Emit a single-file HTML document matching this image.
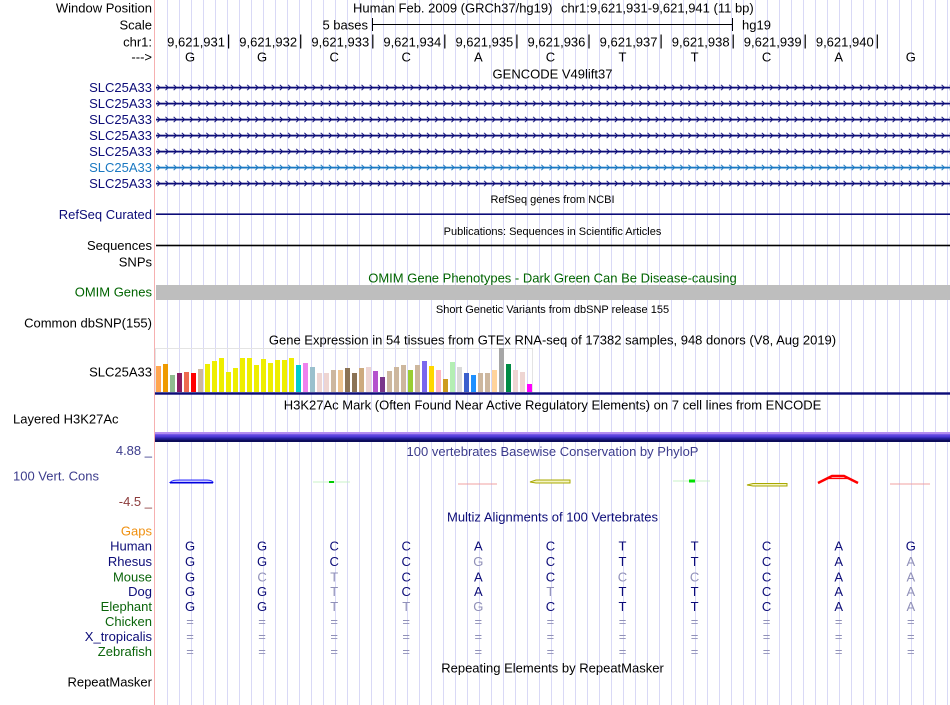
<!DOCTYPE html>
<html><head><meta charset="utf-8">
<style>
html,body{margin:0;padding:0;background:#fff;}
body{width:950px;height:705px;position:relative;overflow:hidden;}
svg{position:absolute;left:0;top:0;}
svg text{font-family:"Liberation Sans",Arial,sans-serif;font-size:13px;fill:#000;}
.r{text-anchor:end;}
.mid{text-anchor:middle;}
.s{font-size:11px;}
.n{fill:#0c0c78;}
.g{fill:#0a640a;}
.m{fill:#9090b8;}
.lb{fill:#1a78c2;}
.cv{fill:#3c3c8c;}
.cr{fill:#8c3c3c;}
.or{fill:#f09010;}
.om{fill:#006400;}
</style></head><body>
<svg width="950" height="705" viewBox="0 0 950 705">
<defs>
<pattern id="grid" x="167" y="0" width="12" height="705" patternUnits="userSpaceOnUse"><rect x="0" y="0" width="1" height="705" fill="#d9d9f6"/></pattern>
<pattern id="chevN" x="156.5" y="79.5" width="8.17" height="16" patternUnits="userSpaceOnUse"><path d="M0.8,5.3 L3.6,8 L0.8,10.7" fill="none" stroke="#0c0c78" stroke-width="1"/></pattern>
<pattern id="chevB" x="156.5" y="79.5" width="8.17" height="16" patternUnits="userSpaceOnUse"><path d="M0.8,5.3 L3.6,8 L0.8,10.7" fill="none" stroke="#1a78c2" stroke-width="1"/></pattern>
<linearGradient id="h3" x1="0" y1="0" x2="0" y2="1">
<stop offset="0" stop-color="#b890f2"/>
<stop offset="0.18" stop-color="#b08af0"/>
<stop offset="0.26" stop-color="#6a4ee6"/>
<stop offset="0.5" stop-color="#4a36d2"/>
<stop offset="0.6" stop-color="#2c22a6"/>
<stop offset="0.76" stop-color="#1c1884"/>
<stop offset="0.8" stop-color="#0e0e5e"/>
<stop offset="1" stop-color="#0c0c58"/>
</linearGradient>
</defs>

<!-- grid -->
<rect x="167" y="0" width="782" height="705" fill="url(#grid)"/>
<rect x="154" y="0" width="1" height="705" fill="#f6b0b0"/>

<!-- scale bar -->
<rect x="372.5" y="24" width="360" height="1" fill="#000"/>
<rect x="372" y="18" width="1" height="13" fill="#000"/>
<rect x="732" y="18" width="1" height="13" fill="#000"/>

<!-- position ticks -->
<rect x="228" y="34.5" width="1.2" height="14" fill="#000"/>
<rect x="300.1" y="34.5" width="1.2" height="14" fill="#000"/>
<rect x="372.2" y="34.5" width="1.2" height="14" fill="#000"/>
<rect x="444.2" y="34.5" width="1.2" height="14" fill="#000"/>
<rect x="516.3" y="34.5" width="1.2" height="14" fill="#000"/>
<rect x="588.4" y="34.5" width="1.2" height="14" fill="#000"/>
<rect x="660.5" y="34.5" width="1.2" height="14" fill="#000"/>
<rect x="732.6" y="34.5" width="1.2" height="14" fill="#000"/>
<rect x="804.6" y="34.5" width="1.2" height="14" fill="#000"/>
<rect x="876.7" y="34.5" width="1.2" height="14" fill="#000"/>

<!-- gene rows -->
<rect x="156" y="86.7" width="794" height="1.8" fill="#0c0c78"/>
<rect x="156" y="83.5" width="794" height="8" fill="url(#chevN)"/>
<rect x="156" y="102.7" width="794" height="1.8" fill="#0c0c78"/>
<rect x="156" y="99.5" width="794" height="8" fill="url(#chevN)"/>
<rect x="156" y="118.7" width="794" height="1.8" fill="#0c0c78"/>
<rect x="156" y="115.5" width="794" height="8" fill="url(#chevN)"/>
<rect x="156" y="134.7" width="794" height="1.8" fill="#0c0c78"/>
<rect x="156" y="131.5" width="794" height="8" fill="url(#chevN)"/>
<rect x="156" y="150.7" width="794" height="1.8" fill="#0c0c78"/>
<rect x="156" y="147.5" width="794" height="8" fill="url(#chevN)"/>
<rect x="156" y="166.7" width="794" height="1.8" fill="#1a78c2"/>
<rect x="156" y="163.5" width="794" height="8" fill="url(#chevB)"/>
<rect x="156" y="182.7" width="794" height="1.8" fill="#0c0c78"/>
<rect x="156" y="179.5" width="794" height="8" fill="url(#chevN)"/>

<!-- refseq & sequences lines -->
<rect x="156" y="213.4" width="794" height="1.6" fill="#0c0c78"/>
<rect x="156" y="244.7" width="794" height="1.6" fill="#000"/>

<!-- OMIM bar -->
<rect x="156" y="285" width="794" height="15" fill="#bebebe"/>

<!-- GTEx -->
<rect x="155.5" y="348.5" width="377" height="44" fill="none" stroke="#e4e4e4" stroke-width="1"/>
<g>
<rect x="156" y="366" width="5" height="26" fill="#FFA54F"/>
<rect x="163" y="364" width="5" height="28" fill="#EE9A00"/>
<rect x="170" y="375" width="5" height="17" fill="#8FBC8F"/>
<rect x="177" y="373" width="5" height="19" fill="#8B1C62"/>
<rect x="184" y="372" width="5" height="20" fill="#EE6A50"/>
<rect x="191" y="373" width="5" height="19" fill="#FF0000"/>
<rect x="198" y="369" width="5" height="23" fill="#CDB79E"/>
<rect x="205" y="364" width="5" height="28" fill="#EEEE00"/>
<rect x="212" y="361" width="5" height="31" fill="#EEEE00"/>
<rect x="219" y="358" width="5" height="34" fill="#EEEE00"/>
<rect x="226" y="372" width="5" height="20" fill="#EEEE00"/>
<rect x="233" y="368" width="5" height="24" fill="#EEEE00"/>
<rect x="240" y="358" width="5" height="34" fill="#EEEE00"/>
<rect x="247" y="358" width="5" height="34" fill="#EEEE00"/>
<rect x="254" y="365" width="5" height="27" fill="#EEEE00"/>
<rect x="261" y="359" width="5" height="33" fill="#EEEE00"/>
<rect x="268" y="363" width="5" height="29" fill="#EEEE00"/>
<rect x="275" y="360" width="5" height="32" fill="#EEEE00"/>
<rect x="282" y="360" width="5" height="32" fill="#EEEE00"/>
<rect x="289" y="358" width="5" height="34" fill="#EEEE00"/>
<rect x="296" y="365" width="5" height="27" fill="#00CDCD"/>
<rect x="303" y="363" width="5" height="29" fill="#EE82EE"/>
<rect x="310" y="367" width="5" height="25" fill="#9AC0CD"/>
<rect x="317" y="373" width="5" height="19" fill="#EED5D2"/>
<rect x="324" y="373" width="5" height="19" fill="#EED5D2"/>
<rect x="331" y="370" width="5" height="22" fill="#CDB79E"/>
<rect x="338" y="370" width="5" height="22" fill="#EEC591"/>
<rect x="345" y="368" width="5" height="24" fill="#8B7355"/>
<rect x="352" y="373" width="5" height="19" fill="#8B7355"/>
<rect x="359" y="368" width="5" height="24" fill="#CDAA7D"/>
<rect x="366" y="367" width="5" height="25" fill="#EED5D2"/>
<rect x="373" y="371" width="5" height="21" fill="#B452CD"/>
<rect x="380" y="377" width="5" height="15" fill="#7A378B"/>
<rect x="387" y="371" width="5" height="21" fill="#CDB79E"/>
<rect x="394" y="367" width="5" height="25" fill="#CDB79E"/>
<rect x="401" y="365" width="5" height="27" fill="#CDB79E"/>
<rect x="408" y="370" width="5" height="22" fill="#9ACD32"/>
<rect x="415" y="365" width="5" height="27" fill="#CDB79E"/>
<rect x="422" y="361" width="5" height="31" fill="#7A67EE"/>
<rect x="429" y="366" width="5" height="26" fill="#FFD700"/>
<rect x="436" y="370" width="5" height="22" fill="#FFB6C1"/>
<rect x="443" y="379" width="5" height="13" fill="#CD9B1D"/>
<rect x="450" y="362" width="5" height="30" fill="#B4EEB4"/>
<rect x="457" y="367" width="5" height="25" fill="#D9D9D9"/>
<rect x="464" y="373" width="5" height="19" fill="#3A5FCD"/>
<rect x="471" y="375" width="5" height="17" fill="#1E90FF"/>
<rect x="478" y="373" width="5" height="19" fill="#CDB79E"/>
<rect x="485" y="373" width="5" height="19" fill="#CDB79E"/>
<rect x="492" y="370" width="5" height="22" fill="#FFD39B"/>
<rect x="499" y="348" width="5" height="44" fill="#A6A6A6"/>
<rect x="506" y="364" width="5" height="28" fill="#008B45"/>
<rect x="513" y="370" width="5" height="22" fill="#EED5D2"/>
<rect x="520" y="372" width="5" height="20" fill="#EED5D2"/>
<rect x="527" y="384" width="5" height="8" fill="#FF00FF"/>
</g>
<rect x="155" y="392.3" width="795" height="2.4" fill="#0c0c78"/>

<!-- H3K27Ac bar -->
<rect x="155" y="432" width="795" height="10" fill="url(#h3)"/>

<!-- conservation glyphs -->
<path d="M170,482.5 C172,480.3 175,480 180,480 L207,480 C211,480 213,481.5 213,482.5 Z" fill="#c8c8ff" stroke="#3030ff" stroke-width="1"/>
<line x1="170" y1="482.8" x2="213" y2="482.8" stroke="#0000dd" stroke-width="1.5"/>
<line x1="313" y1="482" x2="350" y2="482" stroke="#c8f0c8" stroke-width="1"/>
<rect x="329" y="481" width="5" height="2" fill="#00cc00"/>
<line x1="458" y1="484" x2="497" y2="484" stroke="#f0a0a0" stroke-width="1"/>
<path d="M530,482 L536,480 L570,480 L570,483 L536,483 Z" fill="#f4f4c4" stroke="#a8a800" stroke-width="1"/>
<line x1="673" y1="481" x2="710" y2="481" stroke="#c8f0c8" stroke-width="1"/>
<rect x="689" y="479.5" width="6" height="3" fill="#00e000"/>
<path d="M747,485 L753,483.5 L787,483.5 L787,486 L753,486 Z" fill="#f4f4c4" stroke="#a8a800" stroke-width="1"/>
<polyline points="818,483 832,476 844,476 858,483" fill="none" stroke="#ff0000" stroke-width="2.5"/>
<line x1="828" y1="478.5" x2="848" y2="478.5" stroke="#ff0000" stroke-width="1.2"/>
<line x1="890" y1="484" x2="930" y2="484" stroke="#f0a0a0" stroke-width="1"/>

<!-- header text -->
<text class="r" x="152" y="12.7">Window Position</text>
<text x="353" y="12.7">Human Feb. 2009 (GRCh37/hg19)</text>
<text x="561" y="12.7">chr1:9,621,931-9,621,941 (11 bp)</text>
<text class="r" x="152" y="29.7">Scale</text>
<text class="r" x="368" y="29.7">5 bases</text>
<text x="742" y="29.7">hg19</text>
<text class="r" x="152" y="46.7">chr1:</text>
<text class="r" x="225" y="46.7">9,621,931</text>
<text class="r" x="297.1" y="46.7">9,621,932</text>
<text class="r" x="369.2" y="46.7">9,621,933</text>
<text class="r" x="441.2" y="46.7">9,621,934</text>
<text class="r" x="513.3" y="46.7">9,621,935</text>
<text class="r" x="585.4" y="46.7">9,621,936</text>
<text class="r" x="657.5" y="46.7">9,621,937</text>
<text class="r" x="729.6" y="46.7">9,621,938</text>
<text class="r" x="801.6" y="46.7">9,621,939</text>
<text class="r" x="873.7" y="46.7">9,621,940</text>
<text class="r" x="152" y="61.4">---&gt;</text>
<g class="mid">
<text class="mid" x="190" y="61.4">G</text>
<text class="mid" x="262.1" y="61.4">G</text>
<text class="mid" x="334.2" y="61.4">C</text>
<text class="mid" x="406.2" y="61.4">C</text>
<text class="mid" x="478.3" y="61.4">A</text>
<text class="mid" x="550.4" y="61.4">C</text>
<text class="mid" x="622.5" y="61.4">T</text>
<text class="mid" x="694.6" y="61.4">T</text>
<text class="mid" x="766.6" y="61.4">C</text>
<text class="mid" x="838.7" y="61.4">A</text>
<text class="mid" x="910.8" y="61.4">G</text>
</g>
<text class="mid" x="552.5" y="78.4">GENCODE V49lift37</text>

<!-- gene labels -->
<text class="r n" x="152" y="92.2">SLC25A33</text>
<text class="r n" x="152" y="108.2">SLC25A33</text>
<text class="r n" x="152" y="124.2">SLC25A33</text>
<text class="r n" x="152" y="140.2">SLC25A33</text>
<text class="r n" x="152" y="156.2">SLC25A33</text>
<text class="r lb" x="152" y="172.2">SLC25A33</text>
<text class="r n" x="152" y="188.2">SLC25A33</text>

<text class="mid s" x="552.5" y="203">RefSeq genes from NCBI</text>
<text class="r n" x="152" y="219">RefSeq Curated</text>
<text class="mid s" x="552.5" y="235">Publications: Sequences in Scientific Articles</text>
<text class="r" x="152" y="250.2">Sequences</text>
<text class="r" x="152" y="266.4">SNPs</text>
<text class="mid om" x="552.5" y="282.7">OMIM Gene Phenotypes - Dark Green Can Be Disease-causing</text>
<text class="r om" x="152" y="296.7">OMIM Genes</text>
<text class="mid s" x="552.5" y="313">Short Genetic Variants from dbSNP release 155</text>
<text class="r" x="152" y="327.7">Common dbSNP(155)</text>
<text class="mid" x="552.5" y="344.7">Gene Expression in 54 tissues from GTEx RNA-seq of 17382 samples, 948 donors (V8, Aug 2019)</text>
<text class="r" x="152" y="376.7">SLC25A33</text>
<text class="mid" x="552.5" y="409.7">H3K27Ac Mark (Often Found Near Active Regulatory Elements) on 7 cell lines from ENCODE</text>
<text x="13" y="423.7">Layered H3K27Ac</text>

<text class="r cv" x="152" y="455.2">4.88 _</text>
<text class="mid cv" x="552.5" y="456.2">100 vertebrates Basewise Conservation by PhyloP</text>
<text class="cv" x="13" y="480.7">100 Vert. Cons</text>
<text class="r cr" x="152" y="506.2">-4.5 _</text>

<text class="mid n" x="552.5" y="521.7">Multiz Alignments of 100 Vertebrates</text>
<text class="r or" x="152" y="535.7">Gaps</text>
<text class="r n" x="152" y="550.7">Human</text>
<text class="r n" x="152" y="566.2">Rhesus</text>
<text class="r g" x="152" y="581.4">Mouse</text>
<text class="r n" x="152" y="596.2">Dog</text>
<text class="r g" x="152" y="611.2">Elephant</text>
<text class="r g" x="152" y="626.2">Chicken</text>
<text class="r n" x="152" y="641.2">X_tropicalis</text>
<text class="r g" x="152" y="656.2">Zebrafish</text>

<!-- Human -->
<text class="mid n" x="190" y="550.7">G</text>
<text class="mid n" x="262.1" y="550.7">G</text>
<text class="mid n" x="334.2" y="550.7">C</text>
<text class="mid n" x="406.2" y="550.7">C</text>
<text class="mid n" x="478.3" y="550.7">A</text>
<text class="mid n" x="550.4" y="550.7">C</text>
<text class="mid n" x="622.5" y="550.7">T</text>
<text class="mid n" x="694.6" y="550.7">T</text>
<text class="mid n" x="766.6" y="550.7">C</text>
<text class="mid n" x="838.7" y="550.7">A</text>
<text class="mid n" x="910.8" y="550.7">G</text>
<!-- Rhesus -->
<text class="mid n" x="190" y="566.2">G</text>
<text class="mid n" x="262.1" y="566.2">G</text>
<text class="mid n" x="334.2" y="566.2">C</text>
<text class="mid n" x="406.2" y="566.2">C</text>
<text class="mid m" x="478.3" y="566.2">G</text>
<text class="mid n" x="550.4" y="566.2">C</text>
<text class="mid n" x="622.5" y="566.2">T</text>
<text class="mid n" x="694.6" y="566.2">T</text>
<text class="mid n" x="766.6" y="566.2">C</text>
<text class="mid n" x="838.7" y="566.2">A</text>
<text class="mid m" x="910.8" y="566.2">A</text>
<!-- Mouse -->
<text class="mid n" x="190" y="581.4">G</text>
<text class="mid m" x="262.1" y="581.4">C</text>
<text class="mid m" x="334.2" y="581.4">T</text>
<text class="mid n" x="406.2" y="581.4">C</text>
<text class="mid n" x="478.3" y="581.4">A</text>
<text class="mid n" x="550.4" y="581.4">C</text>
<text class="mid m" x="622.5" y="581.4">C</text>
<text class="mid m" x="694.6" y="581.4">C</text>
<text class="mid n" x="766.6" y="581.4">C</text>
<text class="mid n" x="838.7" y="581.4">A</text>
<text class="mid m" x="910.8" y="581.4">A</text>
<!-- Dog -->
<text class="mid n" x="190" y="596.2">G</text>
<text class="mid n" x="262.1" y="596.2">G</text>
<text class="mid m" x="334.2" y="596.2">T</text>
<text class="mid n" x="406.2" y="596.2">C</text>
<text class="mid n" x="478.3" y="596.2">A</text>
<text class="mid m" x="550.4" y="596.2">T</text>
<text class="mid n" x="622.5" y="596.2">T</text>
<text class="mid n" x="694.6" y="596.2">T</text>
<text class="mid n" x="766.6" y="596.2">C</text>
<text class="mid n" x="838.7" y="596.2">A</text>
<text class="mid m" x="910.8" y="596.2">A</text>
<!-- Elephant -->
<text class="mid n" x="190" y="611.2">G</text>
<text class="mid n" x="262.1" y="611.2">G</text>
<text class="mid m" x="334.2" y="611.2">T</text>
<text class="mid m" x="406.2" y="611.2">T</text>
<text class="mid m" x="478.3" y="611.2">G</text>
<text class="mid n" x="550.4" y="611.2">C</text>
<text class="mid n" x="622.5" y="611.2">T</text>
<text class="mid n" x="694.6" y="611.2">T</text>
<text class="mid n" x="766.6" y="611.2">C</text>
<text class="mid n" x="838.7" y="611.2">A</text>
<text class="mid m" x="910.8" y="611.2">A</text>
<!-- Chicken -->
<text class="mid m" x="190" y="626.2">=</text>
<text class="mid m" x="262.1" y="626.2">=</text>
<text class="mid m" x="334.2" y="626.2">=</text>
<text class="mid m" x="406.2" y="626.2">=</text>
<text class="mid m" x="478.3" y="626.2">=</text>
<text class="mid m" x="550.4" y="626.2">=</text>
<text class="mid m" x="622.5" y="626.2">=</text>
<text class="mid m" x="694.6" y="626.2">=</text>
<text class="mid m" x="766.6" y="626.2">=</text>
<text class="mid m" x="838.7" y="626.2">=</text>
<text class="mid m" x="910.8" y="626.2">=</text>
<!-- X_tropicalis -->
<text class="mid m" x="190" y="641.2">=</text>
<text class="mid m" x="262.1" y="641.2">=</text>
<text class="mid m" x="334.2" y="641.2">=</text>
<text class="mid m" x="406.2" y="641.2">=</text>
<text class="mid m" x="478.3" y="641.2">=</text>
<text class="mid m" x="550.4" y="641.2">=</text>
<text class="mid m" x="622.5" y="641.2">=</text>
<text class="mid m" x="694.6" y="641.2">=</text>
<text class="mid m" x="766.6" y="641.2">=</text>
<text class="mid m" x="838.7" y="641.2">=</text>
<text class="mid m" x="910.8" y="641.2">=</text>
<!-- Zebrafish -->
<text class="mid m" x="190" y="656.2">=</text>
<text class="mid m" x="262.1" y="656.2">=</text>
<text class="mid m" x="334.2" y="656.2">=</text>
<text class="mid m" x="406.2" y="656.2">=</text>
<text class="mid m" x="478.3" y="656.2">=</text>
<text class="mid m" x="550.4" y="656.2">=</text>
<text class="mid m" x="622.5" y="656.2">=</text>
<text class="mid m" x="694.6" y="656.2">=</text>
<text class="mid m" x="766.6" y="656.2">=</text>
<text class="mid m" x="838.7" y="656.2">=</text>
<text class="mid m" x="910.8" y="656.2">=</text>

<text class="mid" x="552.5" y="672.4">Repeating Elements by RepeatMasker</text>
<text class="r" x="152" y="686.4">RepeatMasker</text>
</svg>
</body></html>
